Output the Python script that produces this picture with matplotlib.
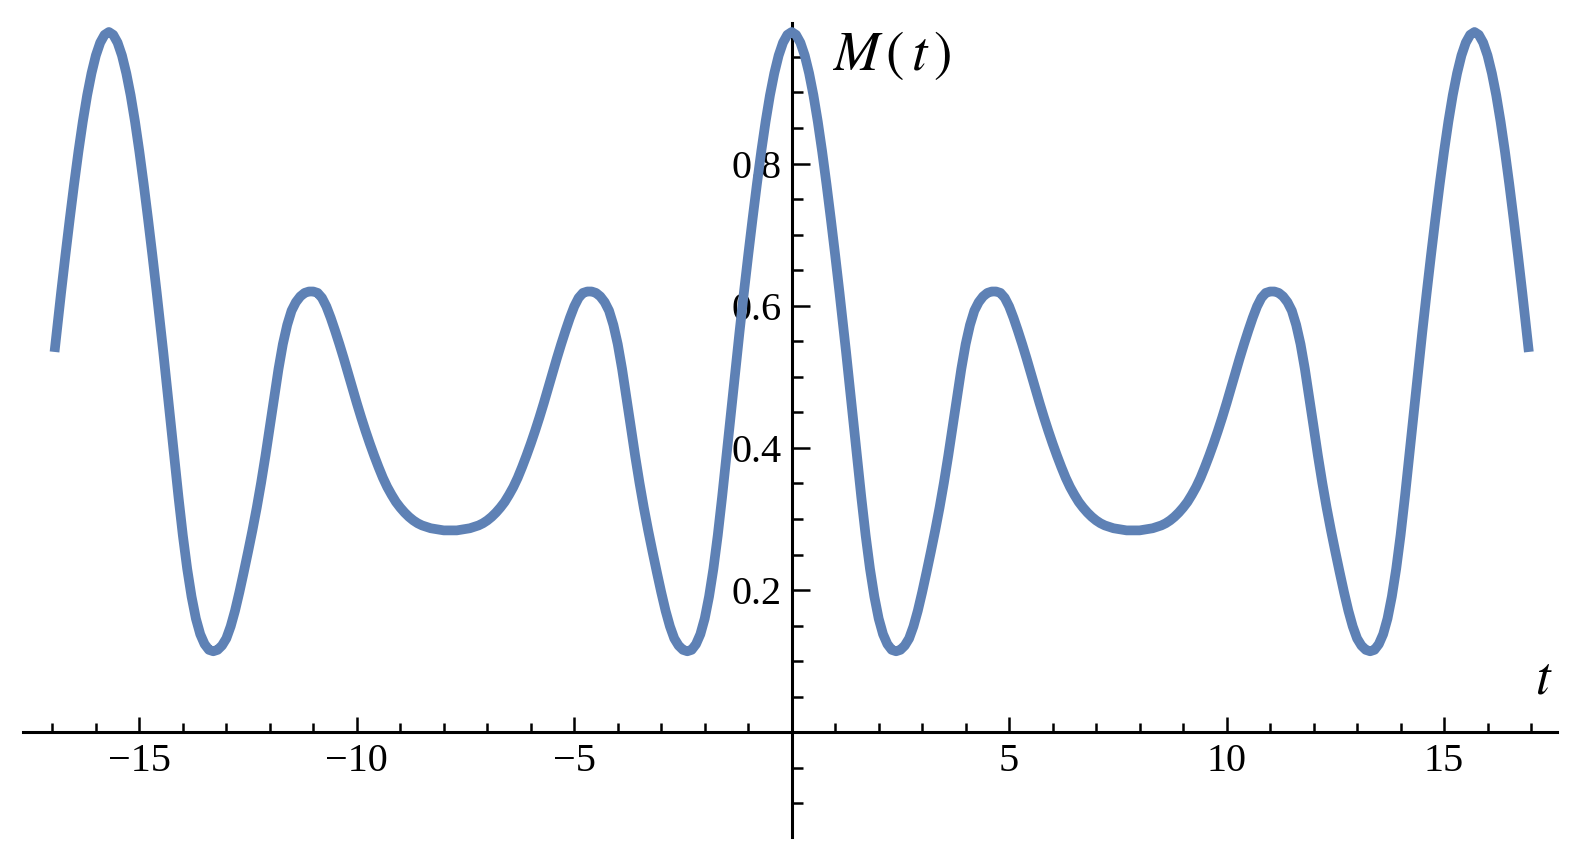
import numpy as np
import matplotlib
matplotlib.use("Agg")
import matplotlib.pyplot as plt

# values for t in [0, 7.85] (half of one revival period)
t_read = [0.0, 0.1, 0.2, 0.3, 0.4, 0.5, 0.6, 0.7, 0.8, 0.9,
          1.0, 1.1, 1.2, 1.25, 1.3, 1.4, 1.5, 1.6, 1.7, 1.8, 1.9,
          2.0, 2.1, 2.2, 2.3, 2.4, 2.5, 2.6, 2.7, 2.8, 2.9,
          3.0, 3.1, 3.2, 3.3, 3.4, 3.5, 3.6, 3.7, 3.8, 3.9,
          4.0, 4.1, 4.2, 4.3, 4.4, 4.5, 4.6, 4.7, 4.8, 4.9,
          5.0, 5.1, 5.2, 5.3, 5.4, 5.5, 5.6, 5.7, 5.8, 5.9,
          6.0, 6.1, 6.2, 6.3, 6.4, 6.5, 6.6, 6.7, 6.8, 6.9,
          7.0, 7.1, 7.2, 7.3, 7.4, 7.5, 7.6, 7.7, 7.8, 7.85]
m_read = [0.985, 0.981, 0.970, 0.952, 0.927, 0.896, 0.859, 0.817, 0.771, 0.722,
          0.671, 0.618, 0.563, 0.535, 0.506, 0.448, 0.389, 0.331, 0.277, 0.230, 0.191,
          0.160, 0.138, 0.124, 0.116, 0.114, 0.116, 0.122, 0.132, 0.149, 0.171,
          0.197, 0.225, 0.254, 0.284, 0.316, 0.351, 0.389, 0.430, 0.471, 0.511,
          0.546, 0.573, 0.593, 0.605, 0.613, 0.618, 0.620, 0.620, 0.618, 0.611,
          0.599, 0.583, 0.565, 0.546, 0.526, 0.505, 0.484, 0.463, 0.443, 0.424,
          0.406, 0.389, 0.373, 0.358, 0.345, 0.334, 0.324, 0.316, 0.309, 0.303,
          0.298, 0.294, 0.291, 0.289, 0.287, 0.286, 0.285, 0.284, 0.284, 0.284]
period = 15.7      # second full revival seen at t ~ 15.7
t_end = 16.95

x_major = [-15, -10, -5, 5, 10, 15]
y_major = [0.2, 0.4, 0.6, 0.8]

# the curve is even and mirrors about period/2, build t >= 0 then reflect
tb = np.array(t_read)
mb = np.array(m_read)
tail = (tb > 0) & (period + tb <= t_end + 1e-9)
t_pos = np.concatenate([tb, period - tb[::-1][1:], period + tb[tail]])
m_pos = np.concatenate([mb, mb[::-1][1:], mb[tail]])
t_all = np.concatenate([-t_pos[::-1], t_pos[1:]])
m_all = np.concatenate([m_pos[::-1], m_pos[1:]])

plt.rcParams['font.family'] = ['Liberation Serif', 'DejaVu Serif']
plt.rcParams['mathtext.fontset'] = 'stix'

fig = plt.figure(figsize=(15.93, 8.60), dpi=100)
ax = fig.add_axes([0, 0, 1, 1])
ax.plot(t_all, m_all, color='#5E81B5', lw=7.0, solid_capstyle='butt',
        solid_joinstyle='round', zorder=3)

ax.set_xlim(-18.204, 18.425)
ax.set_ylim(-0.1796, 1.030)

for s in ['top', 'right']:
    ax.spines[s].set_visible(False)
ax.spines['left'].set_position(('data', 0))
ax.spines['bottom'].set_position(('data', 0))
ax.spines['left'].set_bounds(-0.147, 0.997)
ax.spines['bottom'].set_bounds(-17.68, 17.6)
for s in ['left', 'bottom']:
    ax.spines[s].set_linewidth(2.2)
    ax.spines[s].set_zorder(2)

ax.set_xticks(x_major)
ax.set_xticks([i for i in range(-17, 18) if i % 5 != 0], minor=True)
ax.set_yticks(y_major)
ax.set_yticks([k * 0.05 for k in range(-2, 20) if k % 4 != 0 and k != 0], minor=True)
ax.set_xticklabels([str(v).replace('-', '\u2212') for v in x_major])
ax.set_yticklabels(['%.1f' % v for v in y_major])

ax.tick_params(axis='x', which='major', direction='in', length=10.6, width=1.8,
               pad=8, labelsize=29)
ax.tick_params(axis='x', which='minor', direction='in', length=6.5, width=1.8)
ax.tick_params(axis='y', which='major', direction='in', length=12.7, width=1.8,
               pad=7, labelsize=29)
ax.tick_params(axis='y', which='minor', direction='in', length=7.9, width=1.8)

ax.text(0.92, 0.9315, r'$M\,(\,t\,)$', fontsize=40, ha='left', va='baseline')
ax.text(17.09, 0.055, r'$t$', fontsize=38, ha='left', va='baseline')

fig.savefig('out.png', dpi=100)
